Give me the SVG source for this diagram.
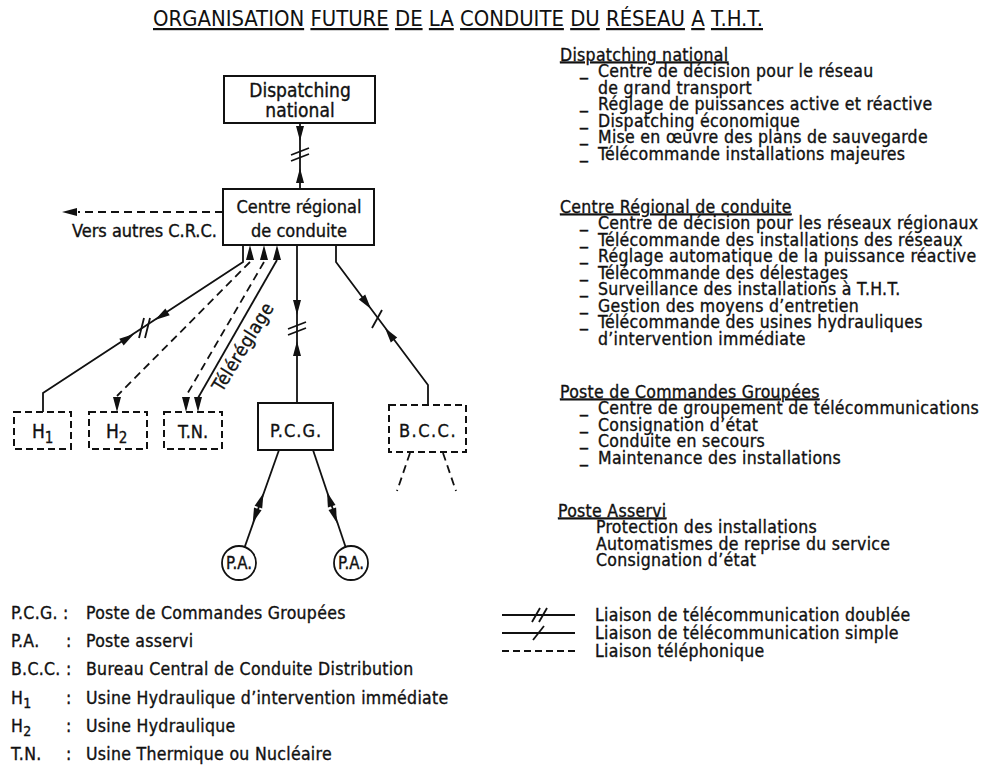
<svg xmlns="http://www.w3.org/2000/svg" xmlns:xlink="http://www.w3.org/1999/xlink" width="982" height="765" viewBox="0 0 982 765">
<defs>
<style>
text{font-family:"DejaVu Sans Condensed","DejaVu Sans","Liberation Sans",sans-serif;font-stretch:condensed;fill:#111;stroke:#111;stroke-width:0.35px}
.title{font-size:22px;stroke-width:0}
.u{text-decoration:underline}
.node{font-size:18px;text-anchor:middle}
.col{font-size:17.5px;letter-spacing:0.3px}
.leg{font-size:17.5px;letter-spacing:0.3px}
.box{fill:#fff;stroke:#111;stroke-width:2}
.dbox{fill:#fff;stroke:#111;stroke-width:2;stroke-dasharray:7 4}
.ln{fill:none;stroke:#111;stroke-width:1.8}
.dl{fill:none;stroke:#111;stroke-width:1.8;stroke-dasharray:8 5}
.ah{fill:#111}
</style>
<path id="ah" class="ah" d="M0,0 L-15,-4 L-15,4 Z"/>
</defs>
<rect width="982" height="765" fill="#fff"/>

<text class="title" x="153" y="26" textLength="610" lengthAdjust="spacingAndGlyphs"><tspan class="u">ORGANISATION</tspan> <tspan class="u">FUTURE</tspan> <tspan class="u">DE</tspan> <tspan class="u">LA</tspan> <tspan class="u">CONDUITE</tspan> <tspan class="u">DU</tspan> <tspan class="u">RÉSEAU</tspan> <tspan class="u">A</tspan> <tspan class="u">T.H.T.</tspan></text>

<g id="connectors">
<!-- Dispatching - CRC -->
<line class="ln" x1="300" y1="123" x2="300" y2="189"/>
<use href="#ah" transform="translate(300,141) rotate(90)"/>
<line class="ln" x1="291" y1="155" x2="309" y2="148"/>
<line class="ln" x1="291" y1="161" x2="309" y2="154"/>
<use href="#ah" transform="translate(300,168) rotate(-90)"/>
<!-- Vers autres CRC -->
<line class="dl" x1="223" y1="212" x2="78" y2="212"/>
<use href="#ah" transform="translate(62,212) rotate(180)"/>
<!-- H1 -->
<polyline class="ln" points="243,245 243,262 43,393 43,412"/>
<use href="#ah" transform="translate(155,320) rotate(146.8)"/>
<line class="ln" x1="139" y1="338" x2="144" y2="318"/>
<line class="ln" x1="145" y1="338" x2="150" y2="318"/>
<use href="#ah" transform="translate(134,334) rotate(-33.2)"/>
<!-- H2 -->
<use href="#ah" transform="translate(250,245) rotate(-90)"/>
<line class="dl" x1="250" y1="262" x2="117" y2="396"/>
<use href="#ah" transform="translate(117,412) rotate(90)"/>
<!-- TN dashed -->
<use href="#ah" transform="translate(264,245) rotate(-90)"/>
<line class="dl" x1="264" y1="262" x2="186" y2="396"/>
<use href="#ah" transform="translate(186,412) rotate(90)"/>
<!-- TN solid -->
<use href="#ah" transform="translate(277,245) rotate(-90)"/>
<line class="ln" x1="277" y1="260" x2="198" y2="398"/>
<use href="#ah" transform="translate(198,412) rotate(90)"/>
<text transform="translate(222,393) rotate(-58.5)" x="0" y="0" style="font-size:18.5px;letter-spacing:0.5px">Téléréglage</text>
<!-- PCG -->
<line class="ln" x1="297" y1="245" x2="297" y2="403"/>
<use href="#ah" transform="translate(297,315) rotate(90)"/>
<line class="ln" x1="288" y1="329" x2="306" y2="322"/>
<line class="ln" x1="288" y1="335" x2="306" y2="328"/>
<use href="#ah" transform="translate(297,341) rotate(-90)"/>
<!-- BCC -->
<polyline class="ln" points="336,245 336,262 428,385 428,405"/>
<use href="#ah" transform="translate(371,309) rotate(53.2)"/>
<line class="ln" x1="372" y1="328" x2="382" y2="310"/>
<use href="#ah" transform="translate(385,328) rotate(233.2)"/>
<line class="dl" x1="410" y1="453" x2="397" y2="491"/>
<line class="dl" x1="443" y1="453" x2="456" y2="491"/>
<!-- PCG - PA -->
<line class="ln" x1="279" y1="450" x2="244.7" y2="547"/>
<use href="#ah" transform="translate(263.5,493) rotate(-70.2)"/>
<use href="#ah" transform="translate(252.7,523) rotate(109.8)"/>
<line class="ln" x1="313" y1="450" x2="345.6" y2="547"/>
<use href="#ah" transform="translate(327,492) rotate(-108.3)"/>
<use href="#ah" transform="translate(337,523) rotate(71.7)"/>
</g>

<g id="dispatching">
<rect class="box" x="224" y="76" width="151" height="47"/>
<text class="node" x="300" y="97" style="font-size:19px">Dispatching</text>
<text class="node" x="300" y="117" style="font-size:19px">national</text>
</g>
<g id="crc">
<rect class="box" x="223" y="189" width="151" height="56"/>
<text class="node" x="299" y="213">Centre régional</text>
<text class="node" x="299" y="237">de conduite</text>
</g>
<text id="vers" x="72" y="237" style="font-size:18px">Vers autres C.R.C.</text>
<g id="h1">
<rect class="dbox" x="14" y="412" width="57" height="37"/>
<text x="32" y="438" style="font-size:19px">H<tspan dy="5" style="font-size:15px">1</tspan></text>
</g>
<g id="h2">
<rect class="dbox" x="89" y="412" width="58" height="37"/>
<text x="106" y="438" style="font-size:19px">H<tspan dy="5" style="font-size:15px">2</tspan></text>
</g>
<g id="tn">
<rect class="dbox" x="164" y="412" width="58" height="37"/>
<text class="node" x="193" y="438">T.N.</text>
</g>
<g id="pcg">
<rect class="box" x="258" y="403" width="75" height="47"/>
<text class="node" x="296" y="437" style="letter-spacing:1px">P.C.G.</text>
</g>
<g id="bcc">
<rect class="dbox" x="389" y="405" width="77" height="47"/>
<text class="node" x="428" y="437" style="letter-spacing:1.5px">B.C.C.</text>
</g>
<g id="pa1">
<circle cx="239" cy="563" r="17" fill="#fff" stroke="#111" stroke-width="1.8"/>
<text x="239" y="569" textLength="26" lengthAdjust="spacingAndGlyphs" style="font-size:17px;text-anchor:middle">P.A.</text>
</g>
<g id="pa2">
<circle cx="351" cy="563" r="17" fill="#fff" stroke="#111" stroke-width="1.8"/>
<text x="351" y="569" textLength="26" lengthAdjust="spacingAndGlyphs" style="font-size:17px;text-anchor:middle">P.A.</text>
</g>

<g id="right-column" class="col">
<text class="col u" x="560" y="60.5">Dispatching national</text>
<text class="col" x="580" y="77"><tspan dy="-2">_</tspan><tspan x="598" dy="2">Centre de décision pour le réseau</tspan></text>
<text class="col" x="598" y="93.5">de grand transport</text>
<text class="col" x="580" y="110"><tspan dy="-2">_</tspan><tspan x="598" dy="2">Réglage de puissances active et réactive</tspan></text>
<text class="col" x="580" y="126.5"><tspan dy="-2">_</tspan><tspan x="598" dy="2">Dispatching économique</tspan></text>
<text class="col" x="580" y="143"><tspan dy="-2">_</tspan><tspan x="598" dy="2">Mise en œuvre des plans de sauvegarde</tspan></text>
<text class="col" x="580" y="159.5"><tspan dy="-2">_</tspan><tspan x="598" dy="2">Télécommande installations majeures</tspan></text>

<text class="col u" x="560" y="212.5">Centre Régional de conduite</text>
<text class="col" x="580" y="229"><tspan dy="-2">_</tspan><tspan x="598" dy="2">Centre de décision pour les réseaux régionaux</tspan></text>
<text class="col" x="580" y="245.5"><tspan dy="-2">_</tspan><tspan x="598" dy="2">Télécommande des installations des réseaux</tspan></text>
<text class="col" x="580" y="262"><tspan dy="-2">_</tspan><tspan x="598" dy="2">Réglage automatique de la puissance réactive</tspan></text>
<text class="col" x="580" y="278.5"><tspan dy="-2">_</tspan><tspan x="598" dy="2">Télécommande des délestages</tspan></text>
<text class="col" x="580" y="295"><tspan dy="-2">_</tspan><tspan x="598" dy="2">Surveillance des installations à T.H.T.</tspan></text>
<text class="col" x="580" y="311.5"><tspan dy="-2">_</tspan><tspan x="598" dy="2">Gestion des moyens d’entretien</tspan></text>
<text class="col" x="580" y="328"><tspan dy="-2">_</tspan><tspan x="598" dy="2">Télécommande des usines hydrauliques</tspan></text>
<text class="col" x="598" y="344.5">d’intervention immédiate</text>

<text class="col u" x="560" y="397.5">Poste de Commandes Groupées</text>
<text class="col" x="580" y="414"><tspan dy="-2">_</tspan><tspan x="598" dy="2">Centre de groupement de télécommunications</tspan></text>
<text class="col" x="580" y="430.5"><tspan dy="-2">_</tspan><tspan x="598" dy="2">Consignation d’état</tspan></text>
<text class="col" x="580" y="447"><tspan dy="-2">_</tspan><tspan x="598" dy="2">Conduite en secours</tspan></text>
<text class="col" x="580" y="463.5"><tspan dy="-2">_</tspan><tspan x="598" dy="2">Maintenance des installations</tspan></text>

<text class="col u" x="558" y="516.5">Poste Asservi</text>
<text class="col" x="596" y="533">Protection des installations</text>
<text class="col" x="596" y="549.5">Automatismes de reprise du service</text>
<text class="col" x="596" y="566">Consignation d’état</text>
</g>

<g id="legend-abbr" class="leg">
<text class="leg" x="11" y="619">P.C.G. :</text><text class="leg" x="86" y="619">Poste de Commandes Groupées</text>
<text class="leg" x="11" y="647">P.A.</text><text class="leg" x="66" y="647">:</text><text class="leg" x="86" y="647">Poste asservi</text>
<text class="leg" x="11" y="675">B.C.C. :</text><text class="leg" x="86" y="675">Bureau Central de Conduite Distribution</text>
<text class="leg" x="11" y="704">H<tspan dy="4" style="font-size:14px">1</tspan></text><text class="leg" x="66" y="704">:</text><text class="leg" x="86" y="704">Usine Hydraulique d’intervention immédiate</text>
<text class="leg" x="11" y="732">H<tspan dy="4" style="font-size:14px">2</tspan></text><text class="leg" x="66" y="732">:</text><text class="leg" x="86" y="732">Usine Hydraulique</text>
<text class="leg" x="11" y="760">T.N.</text><text class="leg" x="66" y="760">:</text><text class="leg" x="86" y="760">Usine Thermique ou Nucléaire</text>
</g>

<g id="legend-lines">
<line class="ln" x1="502" y1="615" x2="575" y2="615"/>
<line class="ln" x1="532" y1="622" x2="540" y2="608"/>
<line class="ln" x1="539" y1="622" x2="547" y2="608"/>
<text class="leg" x="595" y="621">Liaison de télécommunication doublée</text>
<line class="ln" x1="502" y1="633" x2="575" y2="633"/>
<line class="ln" x1="533" y1="640" x2="544" y2="626"/>
<text class="leg" x="595" y="639">Liaison de télécommunication simple</text>
<line class="dl" x1="502" y1="651" x2="575" y2="651" style="stroke-dasharray:7 4"/>
<text class="leg" x="595" y="657">Liaison téléphonique</text>
</g>
</svg>
